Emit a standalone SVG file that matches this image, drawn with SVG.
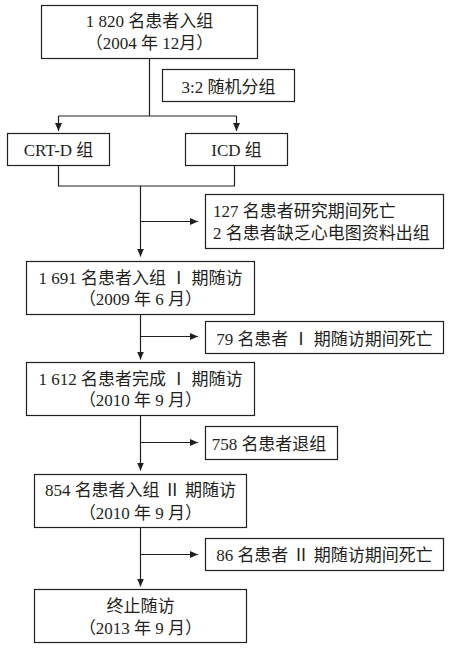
<svg xmlns="http://www.w3.org/2000/svg" width="453" height="648" viewBox="0 0 453 648">
<style>
.box{fill:#fff;stroke:#231f20;stroke-width:1.2}
.t{font-family:"Liberation Serif","Noto Sans CJK SC",serif;font-size:17px;fill:#231f20}
.c{text-anchor:middle}
.ln{fill:none;stroke:#231f20;stroke-width:1.2}
</style>
<defs>
<marker id="ah" markerUnits="userSpaceOnUse" markerWidth="8" markerHeight="7" refX="8" refY="3.5" orient="auto">
<path d="M0,0 L8,3.5 L0,7 z" fill="#231f20"/>
</marker>
</defs>
<rect width="453" height="648" fill="#fff"/>
<g id="connectors">
<path class="ln" d="M149.5 58.5 V116"/>
<path class="ln" d="M58.5 116 H236.5"/>
<path class="ln" d="M58.5 116 V131" marker-end="url(#ah)"/>
<path class="ln" d="M236.5 116 V131" marker-end="url(#ah)"/>
<path class="ln" d="M58.5 165.5 V186 H234.5 V165.5"/>
<path class="ln" d="M140.5 186 V256.5" marker-end="url(#ah)"/>
<path class="ln" d="M140.5 221.5 H198" marker-end="url(#ah)"/>
<path class="ln" d="M140.5 314.5 V359.5" marker-end="url(#ah)"/>
<path class="ln" d="M140.5 336.5 H198" marker-end="url(#ah)"/>
<path class="ln" d="M140.5 415.5 V470.5" marker-end="url(#ah)"/>
<path class="ln" d="M140.5 442.5 H198" marker-end="url(#ah)"/>
<path class="ln" d="M140.5 527.5 V586.5" marker-end="url(#ah)"/>
<path class="ln" d="M140.5 554.5 H198" marker-end="url(#ah)"/>
</g>
<g id="n1">
<rect class="box" x="41.5" y="5.5" width="216" height="53"/>
<text class="t c" x="149.5" y="27">1 820 名患者入组</text>
<text class="t c" x="149.5" y="49">（2004 年 12月）</text>
</g>
<g id="n2">
<rect class="box" x="162.5" y="69.5" width="132" height="32"/>
<text class="t c" x="228.5" y="92.5">3:2 随机分组</text>
</g>
<g id="n3">
<rect class="box" x="7.5" y="133.5" width="102" height="32"/>
<text class="t c" x="58.5" y="156">CRT-D 组</text>
</g>
<g id="n4">
<rect class="box" x="185.5" y="133.5" width="102" height="32"/>
<text class="t c" x="236.5" y="156">ICD 组</text>
</g>
<g id="n5">
<rect class="box" x="205.5" y="194.5" width="238" height="54"/>
<text class="t" x="213" y="216.5">127 名患者研究期间死亡</text>
<text class="t" x="213" y="239">2 名患者缺乏心电图资料出组</text>
</g>
<g id="n6">
<rect class="box" x="26.5" y="261.5" width="228" height="53"/>
<text class="t c" x="140.5" y="283.5">1 691 名患者入组 Ⅰ 期随访</text>
<text class="t c" x="140.5" y="305">（2009 年 6 月）</text>
</g>
<g id="n7">
<rect class="box" x="205.5" y="321.5" width="238" height="32"/>
<text class="t c" x="324.5" y="345">79 名患者 Ⅰ 期随访期间死亡</text>
</g>
<g id="n8">
<rect class="box" x="26.5" y="362.5" width="228" height="53"/>
<text class="t c" x="140.5" y="384.5">1 612 名患者完成 Ⅰ 期随访</text>
<text class="t c" x="140.5" y="406">（2010 年 9 月）</text>
</g>
<g id="n9">
<rect class="box" x="205.5" y="426.5" width="132" height="33"/>
<text class="t c" x="269" y="449.5">758 名患者退组</text>
</g>
<g id="n10">
<rect class="box" x="34.5" y="474.5" width="212" height="53"/>
<text class="t c" x="140.5" y="496">854 名患者入组 Ⅱ 期随访</text>
<text class="t c" x="140.5" y="518.5">（2010 年 9 月）</text>
</g>
<g id="n11">
<rect class="box" x="205.5" y="538.5" width="238" height="32"/>
<text class="t c" x="324.5" y="561">86 名患者 Ⅱ 期随访期间死亡</text>
</g>
<g id="n12">
<rect class="box" x="34.5" y="589.5" width="212" height="53"/>
<text class="t c" x="140.5" y="611.5">终止随访</text>
<text class="t c" x="140.5" y="633.5">（2013 年 9 月）</text>
</g>
</svg>
